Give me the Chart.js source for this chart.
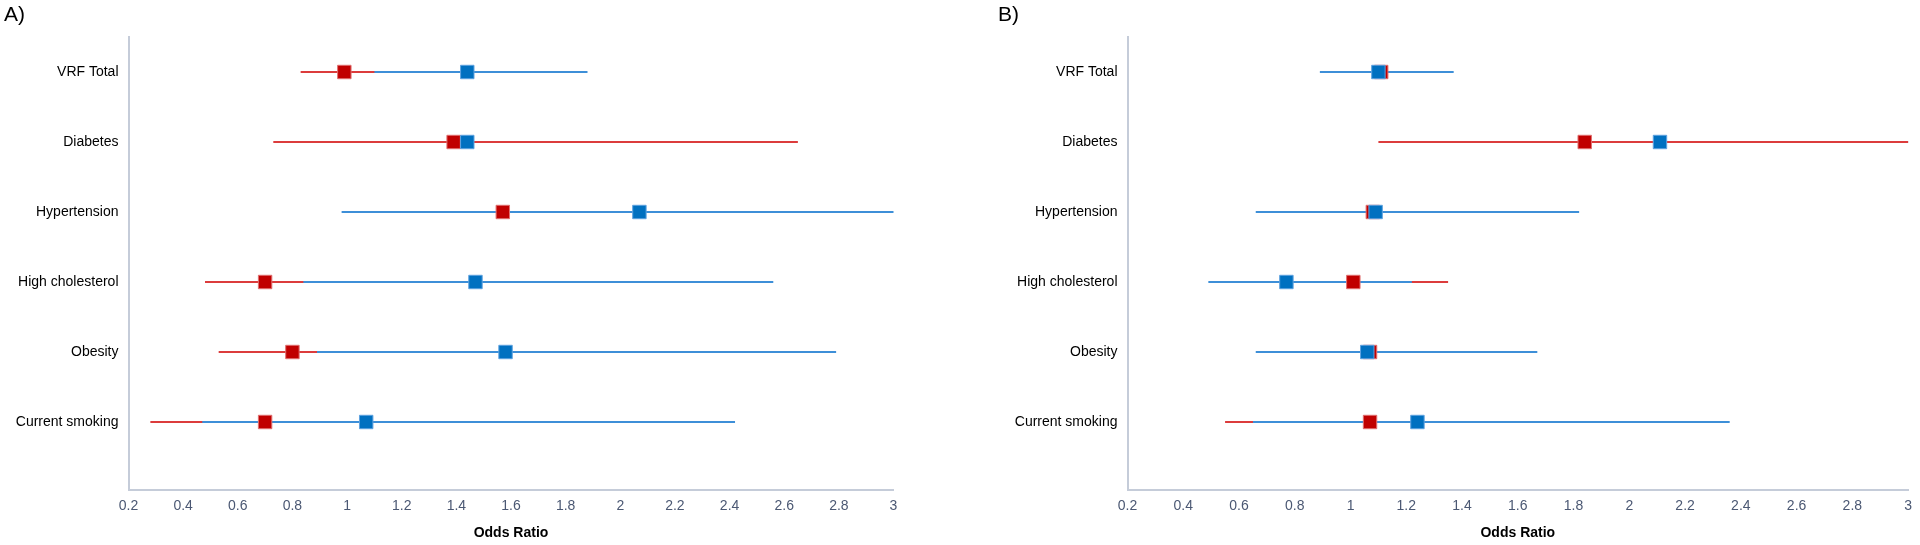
<!DOCTYPE html>
<html><head><meta charset="utf-8">
<script src="https://cdn.jsdelivr.net/npm/chart.js@4.4.1/dist/chart.umd.min.js"></script>
<style>
html,body{margin:0;padding:0;background:#fff;width:1920px;height:545px;overflow:hidden}
#a{position:absolute;left:0;top:0}
#b{position:absolute;left:960px;top:0}
</style></head><body>
<canvas id="a" width="960" height="545"></canvas>
<canvas id="b" width="960" height="545"></canvas>
<script>
// ---- data ----
const categories = ['VRF Total', 'Diabetes', 'Hypertension', 'High cholesterol', 'Obesity', 'Current smoking'];
const xTicks = [0.2, 0.4, 0.6, 0.8, 1, 1.2, 1.4, 1.6, 1.8, 2, 2.2, 2.4, 2.6, 2.8, 3];
const redOnTop = ['Diabetes'];

// Panel A
const redOR_A  = [0.99, 1.39, 1.57, 0.70, 0.80, 0.70];
const redLo_A  = [0.83, 0.73, 1.05, 0.48, 0.53, 0.28];
const redHi_A  = [1.18, 2.65, 2.40, 1.02, 1.20, 1.05];
const blueOR_A = [1.44, 1.44, 2.07, 1.47, 1.58, 1.07];
const blueLo_A = [1.10, 0.85, 0.98, 0.84, 0.89, 0.47];
const blueHi_A = [1.88, 2.45, 3.25, 2.56, 2.79, 2.42];

// Panel B
const redOR_B  = [1.11, 1.84, 1.08, 1.01, 1.07, 1.07];
const redLo_B  = [0.90, 1.10, 0.70, 0.75, 0.72, 0.55];
const redHi_B  = [1.36, 3.40, 1.65, 1.35, 1.55, 2.00];
const blueOR_B = [1.10, 2.11, 1.09, 0.77, 1.06, 1.24];
const blueLo_B = [0.89, 1.40, 0.66, 0.49, 0.66, 0.65];
const blueHi_B = [1.37, 3.10, 1.82, 1.22, 1.67, 2.36];

// ---- styles ----
const RED_LINE = '#dc3c3c', BLUE_LINE = '#3d8fd8';
const RED_SQ = '#c00000', RED_SQ_BORDER = '#e07070';
const BLUE_SQ = '#0070c0', BLUE_SQ_BORDER = '#5fa3e0';
const AXIS_COLOR = '#c5ccd9';
const FONT = "'Liberation Sans', Arial, sans-serif";
const PLOT_TOP = 37, PLOT_BOTTOM = 490, ROW_PX = 70;

function ciData(lo, hi, filter) {
  const out = [];
  categories.forEach((c, i) => {
    if (!filter(c)) return;
    out.push({x: lo[i], y: i + 1}, {x: hi[i], y: i + 1}, {x: null, y: null});
  });
  return out;
}
function ptData(or) {
  return categories.map((c, i) => ({x: or[i], y: i + 1}));
}

function panel(id, label, d, lay) {
  const lineDs = (data, color, order) => ({
    type: 'line', data, borderColor: color, borderWidth: 2, pointRadius: 0,
    spanGaps: false, fill: false, order, clip: 0
  });
  const sqDs = (data, fill, border, order) => ({
    type: 'scatter', data, pointStyle: 'rect', pointRadius: 9.5, pointHoverRadius: 9.5,
    backgroundColor: fill, borderColor: border, borderWidth: 1, order
  });
  new Chart(document.getElementById(id), {
    data: {
      datasets: [
        lineDs(ciData(d.redLo, d.redHi, c => !redOnTop.includes(c)), RED_LINE, 5),
        lineDs(ciData(d.blueLo, d.blueHi, c => true), BLUE_LINE, 4),
        lineDs(ciData(d.redLo, d.redHi, c => redOnTop.includes(c)), RED_LINE, 3),
        sqDs(ptData(d.redOR), RED_SQ, RED_SQ_BORDER, 2),
        sqDs(ptData(d.blueOR), BLUE_SQ, BLUE_SQ_BORDER, 1)
      ]
    },
    options: {
      responsive: false, animation: false, devicePixelRatio: 1,
      layout: {padding: {left: lay.padLeft, right: lay.padRight, top: 0, bottom: 0}},
      plugins: {
        legend: {display: false}, tooltip: {enabled: false},
        title: {display: true, text: label, align: 'start', color: '#000',
                font: {family: FONT, size: 21, weight: 'normal', lineHeight: '25px'},
                padding: {top: 3, bottom: PLOT_TOP - 28}}
      },
      scales: {
        x: {
          type: 'linear', min: 0.2, max: 3, position: 'bottom',
          afterBuildTicks: s => { s.ticks = xTicks.map(v => ({value: v})); },
          afterFit: s => { s.height = 545 - PLOT_BOTTOM; },
          grid: {display: false, drawTicks: false},
          border: {display: true, color: AXIS_COLOR, width: 2},
          ticks: {color: '#4b5873', font: {family: FONT, size: 14}, padding: 8, maxRotation: 0,
                  callback: v => String(Math.round(v * 10) / 10)},
          title: {display: true, text: 'Odds Ratio', color: '#000',
                  font: {family: FONT, size: 14, weight: 'bold'}, padding: {top: 0, bottom: 3}}
        },
        y: {
          type: 'linear', min: 0.5, max: 0.5 + (PLOT_BOTTOM - PLOT_TOP) / ROW_PX, reverse: true, position: 'left',
          afterBuildTicks: s => { s.ticks = categories.map((c, i) => ({value: i + 1})); },
          afterFit: s => { s.width = lay.yWidth; },
          grid: {display: false, drawTicks: false},
          border: {display: true, color: AXIS_COLOR, width: 2},
          ticks: {color: '#000', font: {family: FONT, size: 14}, padding: 10,
                  callback: v => categories[v - 1] || ''}
        }
      }
    }
  });
}

panel('a', 'A)', {redOR: redOR_A, redLo: redLo_A, redHi: redHi_A, blueOR: blueOR_A, blueLo: blueLo_A, blueHi: blueHi_A},
      {padLeft: 4, padRight: 66.5, yWidth: 124.5});
panel('b', 'B)', {redOR: redOR_B, redLo: redLo_B, redHi: redHi_B, blueOR: blueOR_B, blueLo: blueLo_B, blueHi: blueHi_B},
      {padLeft: 38, padRight: 9, yWidth: 129.5});
</script>
</body></html>
